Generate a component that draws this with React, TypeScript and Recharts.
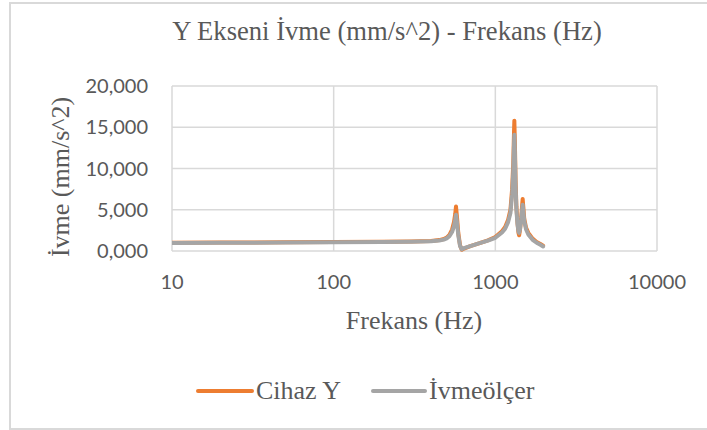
import React from "react";
import { LineChart, Line, XAxis, YAxis, CartesianGrid } from "recharts";

const frequencies = [10, 20, 50, 100, 200, 300, 400, 450, 480, 500, 520, 540, 555, 565, 571, 578, 590, 605, 620, 640, 700, 800, 900, 1000, 1100, 1150, 1200, 1240, 1270, 1290, 1305, 1311, 1320, 1335, 1350, 1370, 1390, 1403, 1420, 1445, 1465, 1476, 1490, 1510, 1550, 1600, 1700, 1800, 1900, 1975];
const cihazY = [1.0, 1.02, 1.05, 1.08, 1.12, 1.15, 1.22, 1.32, 1.45, 1.62, 1.95, 2.6, 3.5, 4.5, 5.4, 4.3, 2.2, 0.7, 0.15, 0.3, 0.6, 0.95, 1.3, 1.7, 2.4, 2.9, 3.8, 5.0, 7.5, 10.5, 14.5, 15.8, 13.5, 8.5, 5.4, 3.5, 2.2, 1.9, 2.5, 4.0, 5.6, 6.3, 5.3, 3.9, 2.8, 2.2, 1.5, 1.1, 0.85, 0.65];
const ivmeolcer = [0.97, 0.99, 1.02, 1.05, 1.08, 1.11, 1.18, 1.27, 1.38, 1.52, 1.8, 2.3, 3.0, 3.8, 4.4, 3.6, 1.9, 0.6, 0.2, 0.35, 0.6, 0.95, 1.25, 1.6, 2.25, 2.7, 3.5, 4.6, 6.8, 9.5, 13.0, 14.1, 12.2, 7.8, 5.0, 3.3, 2.4, 2.2, 2.6, 3.8, 5.0, 5.6, 4.8, 3.6, 2.6, 2.0, 1.35, 1.0, 0.75, 0.55];
const xTicks = [10, 100, 1000, 10000];
const yTicks = [0, 5, 10, 15, 20];

const title = "Y Ekseni İvme (mm/s^2) - Frekans (Hz)";
const xTitle = "Frekans (Hz)";
const yTitle = "İvme (mm/s^2)";
const seriesNames = ["Cihaz Y", "İvmeölçer"];

const ORANGE = "#ED7D31";
const GREY = "#A5A5A5";
const TEXT = "#595959";
const GRID = "#D9D9D9";
const SERIF = "'Liberation Serif', 'Times New Roman', serif";
const SANS = "Lato, 'Open Sans', sans-serif";

const data = frequencies.map((f, i) => ({ f, cihaz: cihazY[i], ivme: ivmeolcer[i] }));

const fmtY = (v: number) => v.toFixed(3).replace(".", ",");

export default function App() {
  return (
    <div style={{ position: "absolute", left: 0, top: 0, width: 707, height: 430, overflow: "hidden", background: "#fff" }}>
      <div style={{ position: "absolute", left: 9, top: 2, width: 700, height: 424, border: `2px solid ${GRID}` }} />
      <div style={{ position: "absolute", left: 0, top: 0 }}>
        <LineChart width={707} height={430} data={data} margin={{ top: 86, right: 50, bottom: 119, left: 72 }}>
          <CartesianGrid stroke={GRID} strokeWidth={1.5} horizontalValues={yTicks} verticalValues={xTicks} />
          <XAxis
            dataKey="f"
            type="number"
            scale="log"
            domain={[10, 10000]}
            ticks={xTicks}
            allowDataOverflow
            height={60}
            axisLine={false}
            tickLine={false}
            tickSize={0}
            tickMargin={24}
            tick={{ fill: TEXT, fontSize: 20, fontFamily: SANS }}
          />
          <YAxis
            type="number"
            domain={[0, 20]}
            ticks={yTicks}
            width={100}
            axisLine={false}
            tickLine={false}
            tickSize={0}
            tickMargin={24}
            tickFormatter={fmtY}
            tick={{ fill: TEXT, fontSize: 20, fontFamily: SANS }}
          />
          <Line dataKey="cihaz" name={seriesNames[0]} stroke={ORANGE} strokeWidth={4} dot={false} isAnimationActive={false} strokeLinejoin="round" strokeLinecap="round" />
          <Line dataKey="ivme" name={seriesNames[1]} stroke={GREY} strokeWidth={4} dot={false} isAnimationActive={false} strokeLinejoin="round" strokeLinecap="round" />
        </LineChart>
      </div>
      <svg width={707} height={430} style={{ position: "absolute", left: 0, top: 0, pointerEvents: "none" }}>
        <text x={387} y={40} textAnchor="middle" fontFamily={SERIF} fontSize={26.6} fill={TEXT}>{title}</text>
        <text x={414} y={329} textAnchor="middle" fontFamily={SERIF} fontSize={26} fill={TEXT}>{xTitle}</text>
        <text transform="translate(69,177) rotate(-90)" textAnchor="middle" fontFamily={SERIF} fontSize={26} fill={TEXT}>{yTitle}</text>
        <line x1={198} x2={252} y1={391} y2={391} stroke={ORANGE} strokeWidth={4} strokeLinecap="round" />
        <text x={256} y={399} fontFamily={SERIF} fontSize={26} fill={TEXT}>{seriesNames[0]}</text>
        <line x1={373} x2={425} y1={391} y2={391} stroke={GREY} strokeWidth={4} strokeLinecap="round" />
        <text x={429} y={399} fontFamily={SERIF} fontSize={26} fill={TEXT}>{seriesNames[1]}</text>
      </svg>
    </div>
  );
}
